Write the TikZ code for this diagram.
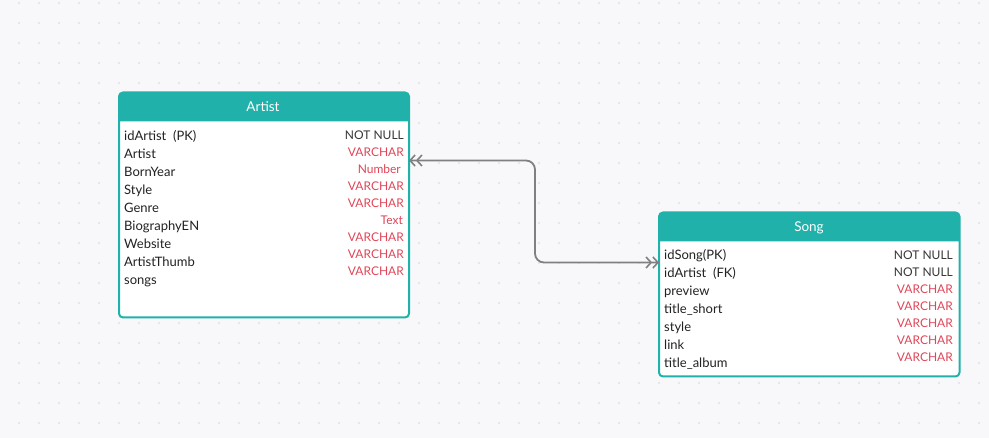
\documentclass[tikz,border=0pt]{standalone}
\usepackage{fontspec}
\setmainfont{Lato}
\usetikzlibrary{arrows.meta}
\definecolor{tealhead}{HTML}{20B2AA}
\definecolor{typered}{HTML}{E04658}
\definecolor{bgcol}{HTML}{F8F8FA}
\definecolor{dotcol}{HTML}{E0E0E6}
\definecolor{conncol}{HTML}{808080}
\definecolor{namecol}{HTML}{222222}
\begin{document}
\begin{tikzpicture}[x=1pt,y=-1pt,
  tablebox/.style={draw=tealhead, line width=2pt, fill=white, rounded corners=4pt, outer sep=0pt, inner sep=0pt},
  headtxt/.style={anchor=base, text=white, font=\fontsize{13.5}{15}\selectfont, inner sep=0pt},
  fname/.style={anchor=base west, text=namecol, font=\fontsize{13}{15}\selectfont, inner sep=0pt},
  ftype/.style={anchor=base east, text=typered, font=\fontsize{12}{14}\selectfont, inner sep=0pt},
  fnn/.style={ftype, text=namecol!90},
  chev/.style={Straight Barb[length=5pt,width=11pt,line width=1.6pt]},
  conn/.style={draw=conncol, line width=1.8pt, rounded corners=9pt,
    {Straight Barb[length=5pt,width=11pt,line width=1.6pt] Straight Barb[length=5pt,width=11pt,line width=1.6pt]}-{Straight Barb[length=5pt,width=11pt,line width=1.6pt] Straight Barb[length=5pt,width=11pt,line width=1.6pt]}}
]
\fill[bgcol] (0,0) rectangle (989,438);
\useasboundingbox (0,0) rectangle (989,438);
\foreach \i in {19,39,...,979} {
  \foreach \j in {3,23,...,437} {
    \fill[dotcol] (\i,\j) circle (1.2pt);
  }
}
% Artist table
\node[tablebox, minimum width=290pt, minimum height=225pt] (artist) at (264,205) {};
\fill[tealhead, rounded corners=4pt] ([yshift=-29pt]artist.north west) -- (artist.north west) -- (artist.north east) [sharp corners] -- ([yshift=-29pt]artist.north east) -- cycle;
\node[headtxt] (artistT) at (263,111.7) {Artist};
\node[fname] (an1) at (124,140.5) {idArtist\ \ (PK)};
\node[fname] (an2) at (124,158.5) {Artist};
\node[fname] (an3) at (124,176.5) {BornYear};
\node[fname] (an4) at (124,194.5) {Style};
\node[fname] (an5) at (124,212.5) {Genre};
\node[fname] (an6) at (124,230.5) {BiographyEN};
\node[fname] (an7) at (124,248.5) {Website};
\node[fname] (an8) at (124,266.5) {ArtistThumb};
\node[fname] (an9) at (124,284.5) {songs};
\node[fnn] (at1) at (404,139.5) {NOT NULL};
\node[ftype] (at2) at (404,156.5) {VARCHAR};
\node[ftype] (at3) at (401,173.5) {Number};
\node[ftype] (at4) at (404,190.5) {VARCHAR};
\node[ftype] (at5) at (404,207.5) {VARCHAR};
\node[ftype] (at6) at (403,224.5) {Text};
\node[ftype] (at7) at (404,241.5) {VARCHAR};
\node[ftype] (at8) at (404,258.5) {VARCHAR};
\node[ftype] (at9) at (404,275.5) {VARCHAR};
% Song table
\node[tablebox, minimum width=300.5pt, minimum height=164pt] (song) at (809.25,294.5) {};
\fill[tealhead, rounded corners=4pt] ([yshift=-29pt]song.north west) -- (song.north west) -- (song.north east) [sharp corners] -- ([yshift=-29pt]song.north east) -- cycle;
\node[headtxt] (songT) at (809,231.7) {Song};
\node[fname] (sn1) at (664,260) {idSong(PK)};
\node[fname] (sn2) at (664,278) {idArtist\ \ (FK)};
\node[fname] (sn3) at (664,296) {preview};
\node[fname] (sn4) at (664,314) {title\_short};
\node[fname] (sn5) at (664,332) {style};
\node[fname] (sn6) at (664,350) {link};
\node[fname] (sn7) at (664,368) {title\_album};
\node[fnn] (st1) at (953,259.5) {NOT NULL};
\node[fnn] (st2) at (953,276.5) {NOT NULL};
\node[ftype] (st3) at (953,293.5) {VARCHAR};
\node[ftype] (st4) at (953,310.5) {VARCHAR};
\node[ftype] (st5) at (953,327.5) {VARCHAR};
\node[ftype] (st6) at (953,344.5) {VARCHAR};
\node[ftype] (st7) at (953,361.5) {VARCHAR};
% connector
\coordinate (aport) at ([yshift=-68pt]artist.north east);
\coordinate (sport) at ([yshift=-50pt]song.north west);
\draw[conn] (aport) -- ++(126,0) |- (sport);
\end{tikzpicture}
\end{document}
